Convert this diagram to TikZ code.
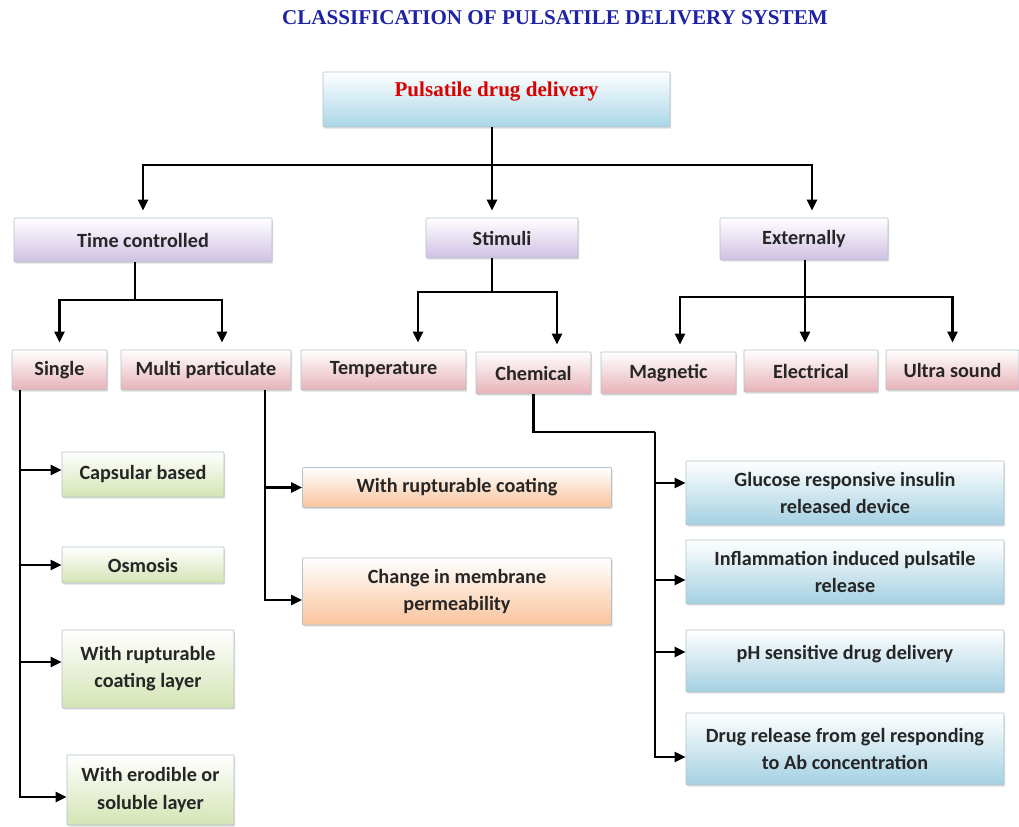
\documentclass[tikz,border=0pt]{standalone}
\usepackage{fontspec}
\setmainfont{Carlito}
\newfontfamily\titlefont{Liberation Serif}
\usepackage{xcolor}
\usetikzlibrary{positioning,arrows.meta,calc,shadows}

\definecolor{titleblue}{RGB}{30,35,165}
\definecolor{rootblue}{RGB}{168,214,230}
\definecolor{lilac}{RGB}{208,192,228}
\definecolor{rosy}{RGB}{231,178,184}
\definecolor{sage}{RGB}{212,228,180}
\definecolor{peach}{RGB}{249,196,156}
\definecolor{skyblue}{RGB}{164,208,226}
\definecolor{edgegray}{RGB}{178,196,200}

\begin{document}
\begin{tikzpicture}[x=0.02cm, y=-0.02cm, font=\fontsize{11.5}{15.5}\selectfont\bfseries,
  box/.style={draw=edgegray, rounded corners=0.5pt, align=center, inner sep=2pt, text=black!85,
    drop shadow={shadow xshift=0.7pt, shadow yshift=-0.9pt, opacity=0.25}},
  rootbox/.style={box, top color=white, bottom color=rootblue},
  mainbox/.style={box, top color=white, bottom color=lilac},
  subbox/.style={box, top color=white, bottom color=rosy, minimum height=0.8cm},
  greenbox/.style={box, top color=white, bottom color=sage},
  orangebox/.style={box, top color=white, bottom color=peach, minimum width=6.18cm},
  bluebox/.style={box, top color=white, bottom color=skyblue, minimum width=6.36cm},
  line/.style={line width=1.3pt},
  arr/.style={line, -{Triangle[length=2.2mm, width=2mm]}, shorten >=4pt},
  harr/.style={line, -{Triangle[length=2.2mm, width=2mm]}}]
\useasboundingbox (0,0) rectangle (1019,827);
\node[font=\fontsize{12}{14}\selectfont\titlefont\bfseries, text=titleblue] (title) at (555,18) {CLASSIFICATION OF PULSATILE DELIVERY SYSTEM};
\node[rootbox, minimum width=6.94cm, minimum height=1.1cm, text depth=0.4cm,
  font=\fontsize{12}{14}\selectfont\titlefont\bfseries, text=red!85!black] (root) at (496.5,99.5) {Pulsatile drug delivery};
% second level
\node[mainbox, minimum width=5.16cm, minimum height=0.88cm] (time) at (143,240) {Time controlled};
\node[mainbox, minimum width=3.04cm, minimum height=0.8cm] (stim) at (502,238) {Stimuli};
\node[mainbox, minimum width=3.36cm, minimum height=0.84cm] (ext) at (804,239) {Externally};
% third level
\node[subbox, minimum width=1.9cm] (single) at (59.5,370) {Single};
\node[subbox, minimum width=3.4cm] (multi) at (206,370) {Multi particulate};
\node[subbox, minimum width=3.3cm] (temp) at (383.5,370) {Temperature};
\node[subbox, minimum width=2.3cm, minimum height=0.84cm] (chem) at (533.5,373) {Chemical};
\node[subbox, minimum width=2.7cm, minimum height=0.84cm] (magn) at (668.5,373) {Magnetic};
\node[subbox, minimum width=2.68cm, minimum height=0.84cm] (elec) at (811,371) {Electrical};
\node[subbox, minimum width=2.66cm] (ultra) at (952.5,370) {Ultra sound};
% single units
\node[greenbox, minimum width=3.24cm, minimum height=0.9cm] (caps) at (143,474.5) {Capsular based};
\node[greenbox, minimum width=3.24cm, minimum height=0.72cm] (osmo) at (143,565) {Osmosis};
\node[greenbox, minimum width=3.44cm, minimum height=1.56cm] (rupt) at (148,669) {With rupturable\\coating layer};
\node[greenbox, minimum width=3.34cm, minimum height=1.4cm] (erod) at (150.5,790) {With erodible or\\soluble layer};
% multi particulate
\node[orangebox, minimum height=0.8cm] (rcoat) at (457,487.5) {With rupturable coating};
\node[orangebox, minimum height=1.34cm] (memb) at (457,591.5) {Change in membrane\\permeability};
% chemical stimuli
\node[bluebox, minimum height=1.28cm] (gluc) at (845,493) {Glucose responsive insulin\\released device};
\node[bluebox, minimum height=1.28cm] (infl) at (845,572) {Inflammation induced pulsatile\\release};
\node[bluebox, minimum height=1.24cm, text depth=0.35cm] (ph) at (845,661) {pH sensitive drug delivery};
\node[bluebox, minimum height=1.44cm] (gel) at (845,749) {Drug release from gel responding\\to Ab concentration};
% connectors
\coordinate (j1) at (492,165);
\draw[line] (root.south -| j1) -- (j1);
\draw[arr] (j1) -| (time);
\draw[arr] (j1) -- (stim.north -| j1);
\draw[arr] (j1) -| ([xshift=0.16cm]ext.north);
\coordinate (j2) at (135,300);
\draw[line] (time.south -| j2) -- (j2);
\draw[arr] (j2) -| (single);
\draw[arr] (j2) -| ([xshift=0.32cm]multi.north);
\coordinate (j3) at (492,292);
\draw[line] (stim.south -| j3) -- (j3);
\draw[arr] (j3) -| ([xshift=0.69cm]temp.north);
\draw[arr] (j3) -| ([xshift=0.47cm]chem.north);
\coordinate (j4) at (805,297);
\draw[line] (ext.south -| j4) -- (j4);
\draw[arr] (j4) -| ([xshift=0.23cm]magn.north);
\draw[arr] (j4) -- (elec.north -| j4);
\draw[arr] (j4) -| (ultra);
\coordinate (sv) at (20,390);
\draw[harr] (sv) |- ([yshift=0.09cm]caps.west);
\draw[harr] (sv) |- (osmo);
\draw[harr] (sv) |- ([yshift=0.14cm]rupt.west);
\draw[harr] (sv) |- ([yshift=-0.14cm]erod.west);
\coordinate (mv) at (265,390);
\draw[harr] (mv) |- (rcoat);
\draw[harr] (mv) |- ([yshift=-0.17cm]memb.west);
\coordinate (cv) at (655,432);
\draw[line] (chem) |- (cv);
\draw[harr] (cv) |- ([yshift=0.2cm]gluc.west);
\draw[harr] (cv) |- ([yshift=-0.16cm]infl.west);
\draw[harr] (cv) |- ([yshift=0.18cm]ph.west);
\draw[harr] (cv) |- ([yshift=-0.16cm]gel.west);
\end{tikzpicture}
\end{document}
